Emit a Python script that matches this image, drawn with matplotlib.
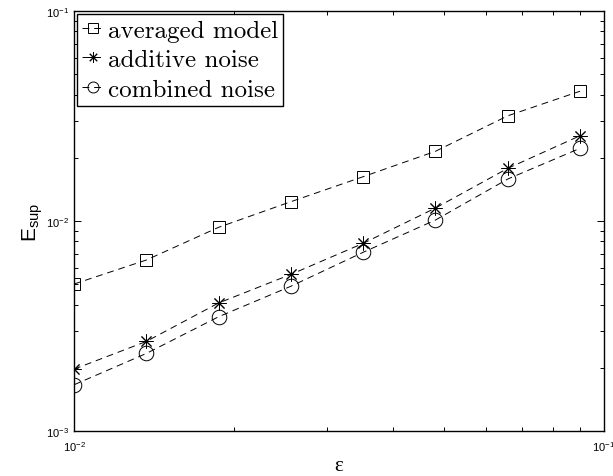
import numpy as np
import matplotlib.pyplot as plt
from matplotlib.ticker import LogLocator, NullFormatter

# Sup-norm error against epsilon for the three noise models
eps = [0.0100, 0.01369, 0.01874, 0.02566, 0.03513, 0.04809, 0.06584, 0.0901]
err_averaged = [0.00501, 0.00652, 0.00933, 0.01236, 0.01626, 0.02148, 0.0317, 0.0415]
err_additive = [0.00197, 0.00267, 0.00407, 0.00557, 0.00783, 0.01153, 0.01782, 0.02547]
err_combined = [0.00166, 0.00234, 0.00350, 0.00489, 0.00710, 0.01011, 0.01585, 0.02219]

labels = ['averaged model', 'additive noise', 'combined noise']

plt.rcParams['font.family'] = ['Liberation Sans', 'DejaVu Sans']
plt.rcParams['mathtext.fontset'] = 'custom'
plt.rcParams['mathtext.rm'] = 'Liberation Sans'
plt.rcParams['mathtext.it'] = 'Liberation Sans:italic'

fig = plt.figure(figsize=(6.13, 4.77), dpi=100)
ax = fig.add_axes([0.1207, 0.0943, 0.8646, 0.8805])

style = dict(color='black', linestyle='--', dashes=(7, 5), linewidth=0.7,
             markerfacecolor='none', markeredgecolor='black',
             markeredgewidth=0.7)
ax.plot(eps, err_averaged, marker='s', markersize=9, label=labels[0], **style)
ax.plot(eps, err_additive, marker=(8, 2, 0), markersize=10, label=labels[1], **style)
ax.plot(eps, err_combined, marker='o', markersize=10.5, label=labels[2], **style)

ax.set_xscale('log')
ax.set_yscale('log')
ax.set_xlim(1e-2, 1e-1)
ax.set_ylim(1e-3, 1e-1)

for axis in (ax.xaxis, ax.yaxis):
    axis.set_major_locator(LogLocator(base=10, numticks=5))
    axis.set_minor_locator(LogLocator(base=10, subs=np.arange(2, 10), numticks=20))
    axis.set_minor_formatter(NullFormatter())

ax.tick_params(which='both', direction='in', top=True, right=True,
               width=0.7, labelsize=8)
ax.tick_params(which='major', length=5)
ax.tick_params(which='minor', length=3)
ax.tick_params(axis='x', pad=6)
for s in ax.spines.values():
    s.set_linewidth(1.0)

ax.set_xlabel('ε', fontsize=15, labelpad=2, family='Liberation Serif')
ax.set_ylabel(r'$\mathregular{E_{sup}}$', fontsize=15, labelpad=1)

leg = ax.legend(loc='upper left', bbox_to_anchor=(0.0, 1.0), fancybox=False,
                edgecolor='black', framealpha=1, borderaxespad=0.12,
                handlelength=0.85, handletextpad=0.18, borderpad=0.2,
                labelspacing=0.28, markerscale=0.75,
                prop={'family': 'cmr10', 'size': 18})
leg.get_frame().set_linewidth(1.0)

fig.savefig('out.png', dpi=100)
